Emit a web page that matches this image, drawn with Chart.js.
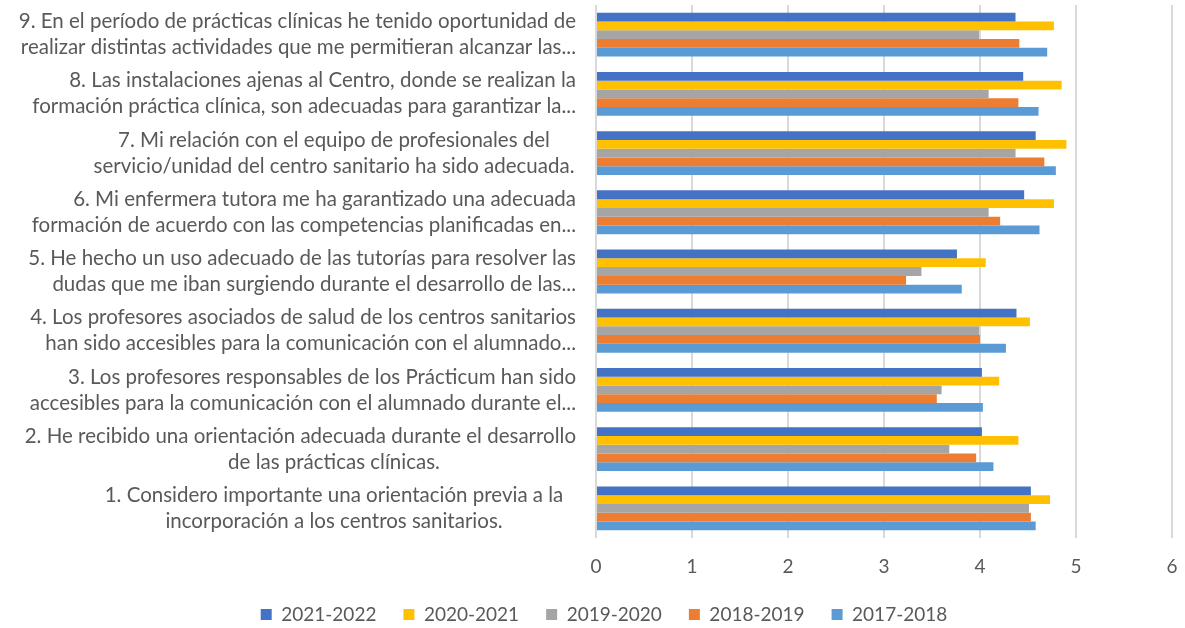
<!DOCTYPE html>
<html>
<head>
<meta charset="utf-8">
<script src="https://cdn.jsdelivr.net/npm/chart.js@4"></script>
<style>
  body { margin: 0; background: #fff; }
  #wrap { width: 1185px; height: 628px; }
</style>
</head>
<body>
<div id="wrap"><canvas id="chart"></canvas></div>
<script>
// preguntas, de arriba (9) a abajo (1)
var preguntas = [
  ['9. En el período de prácticas clínicas he tenido oportunidad de', 'realizar distintas actividades que me permitieran alcanzar las...'],
  ['8. Las instalaciones ajenas al Centro, donde se realizan la', 'formación práctica clínica, son adecuadas para garantizar la...'],
  ['7. Mi relación con el equipo de profesionales del', 'servicio/unidad del centro sanitario ha sido adecuada.'],
  ['6. Mi enfermera tutora me ha garantizado una adecuada', 'formación de acuerdo con las competencias planificadas en...'],
  ['5. He hecho un uso adecuado de las tutorías para resolver las', 'dudas que me iban surgiendo durante el desarrollo de las...'],
  ['4. Los profesores asociados de salud de los centros sanitarios', 'han sido accesibles para la comunicación con el alumnado...'],
  ['3. Los profesores responsables de los Prácticum han sido', 'accesibles para la comunicación con el alumnado durante el...'],
  ['2. He recibido una orientación adecuada durante el desarrollo', 'de las prácticas clínicas.'],
  ['1. Considero importante una orientación previa a la', 'incorporación a los centros sanitarios.']
];

var cursos = ['2021-2022', '2020-2021', '2019-2020', '2018-2019', '2017-2018'];

var v2021_2022 = [4.37, 4.45, 4.58, 4.46, 3.76, 4.38, 4.02, 4.02, 4.53];
var v2020_2021 = [4.77, 4.85, 4.90, 4.77, 4.06, 4.52, 4.20, 4.40, 4.73];
var v2019_2020 = [3.99, 4.09, 4.37, 4.09, 3.39, 3.99, 3.60, 3.68, 4.51];
var v2018_2019 = [4.41, 4.40, 4.67, 4.21, 3.23, 4.00, 3.55, 3.96, 4.53];
var v2017_2018 = [4.70, 4.61, 4.79, 4.62, 3.81, 4.27, 4.03, 4.14, 4.58];

var xTicks = [0, 1, 2, 3, 4, 5, 6];

var series = [v2021_2022, v2020_2021, v2019_2020, v2018_2019, v2017_2018];
var colores = ['#4472C4', '#FFC000', '#A5A5A5', '#ED7D31', '#5B9BD5'];
var gris = '#595959';

// etiquetas de dos lineas, centradas como en Excel
var etiquetas = {
  id: 'etiquetas',
  afterDraw: function (chart) {
    var ctx = chart.ctx;
    var y = chart.scales.y;
    ctx.save();
    ctx.font = '20.5px Lato';
    ctx.fillStyle = gris;
    ctx.textBaseline = 'middle';
    ctx.textAlign = 'left';
    preguntas.forEach(function (lineas, i) {
      var cy = y.getPixelForTick(i);
      lineas.forEach(function (linea, j) {
        var w = ctx.measureText(linea).width;
        var x = 334 - w / 2;
        if (x + w > 576) x = 576 - w;
        ctx.fillText(linea, x, cy + (j - (lineas.length - 1) / 2) * 26);
      });
    });
    ctx.restore();
  }
};

var ctx = document.getElementById('chart');
var mychart = new Chart(ctx, {
  type: 'bar',
  data: {
    labels: preguntas.map(function (l) { return l.join(' '); }),
    datasets: cursos.map(function (c, i) {
      return {
        label: c,
        data: series[i],
        backgroundColor: colores[i],
        borderWidth: 0,
        barPercentage: 1,
        categoryPercentage: 0.74
      };
    })
  },
  options: {
    indexAxis: 'y',
    responsive: true,
    maintainAspectRatio: false,
    animation: false,
    layout: {
      padding: { left: 36, right: 13, top: 5, bottom: -6 }
    },
    scales: {
      x: {
        min: xTicks[0],
        max: xTicks[xTicks.length - 1],
        afterBuildTicks: function (scale) {
          scale.ticks = xTicks.map(function (v) { return { value: v }; });
        },
        afterFit: function (scale) {
          scale.height = 40;
        },
        ticks: {
          color: gris,
          font: { family: 'Lato', size: 19 },
          padding: 0
        },
        grid: {
          color: '#D9D9D9',
          lineWidth: 2,
          drawTicks: true,
          tickLength: 17,
          tickColor: 'rgba(0,0,0,0)'
        },
        border: { display: false }
      },
      y: {
        ticks: { display: false },
        grid: { display: false },
        border: { display: false },
        afterFit: function (scale) {
          scale.width = 560;
        }
      }
    },
    plugins: {
      legend: {
        position: 'bottom',
        labels: {
          boxWidth: 11,
          boxHeight: 11,
          padding: 27,
          color: gris,
          font: { family: 'Lato', size: 19 }
        }
      },
      tooltip: { enabled: true }
    }
  },
  plugins: [etiquetas]
});
</script>
</body>
</html>
